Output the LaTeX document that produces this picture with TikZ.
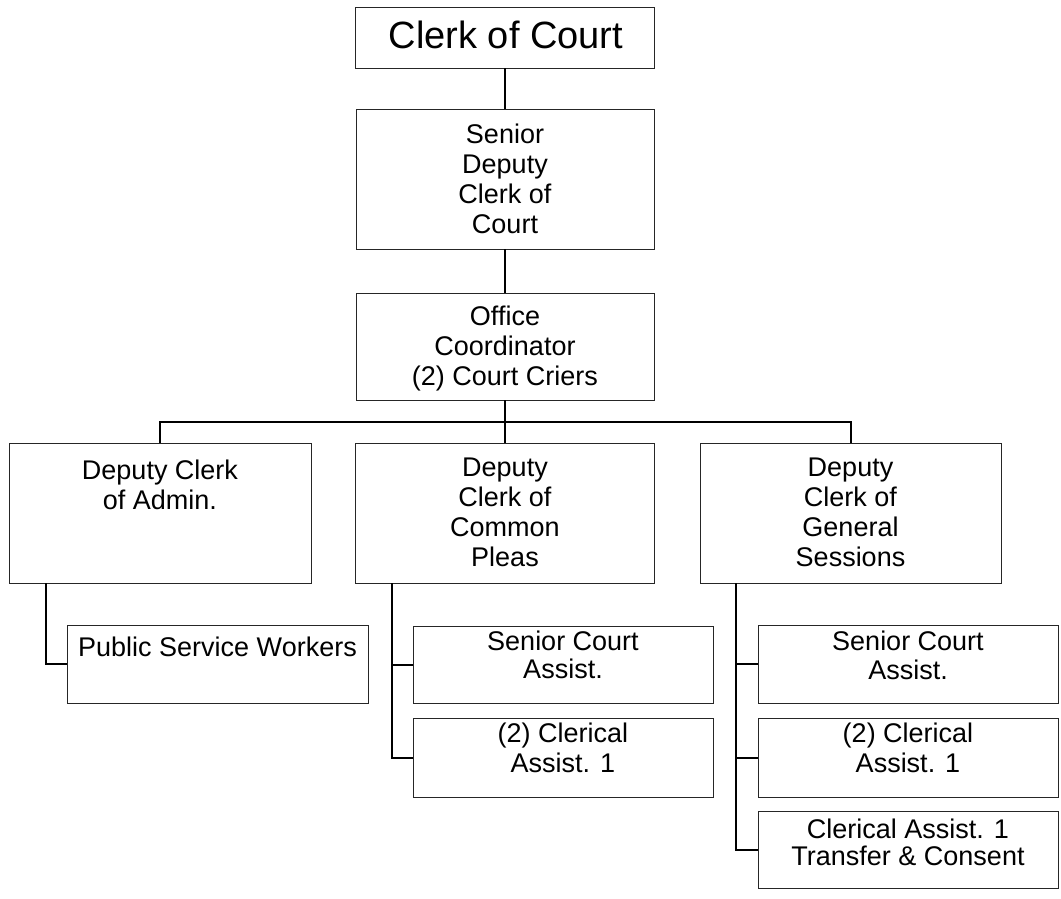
\documentclass[tikz,border=0pt]{standalone}
\usepackage{fontspec}
\setmainfont{Liberation Sans}
\begin{document}
\newcommand\topstrut{\rule{0pt}{24.3pt}}
\begin{tikzpicture}[x=1pt,y=1pt,
  orgrect/.style={draw=black!85, line width=1pt, inner sep=0pt, outer sep=0pt},
  lbl/.style={align=center, anchor=north, inner sep=0pt, outer sep=0pt,
              font=\fontsize{27}{#1}\selectfont},
  lbl/.default=30,
  title/.style={anchor=base, inner sep=0pt, font=\fontsize{38}{40}\selectfont},
  conn/.style={draw=black, line width=2pt}]
\useasboundingbox (0,0) rectangle (1061,-898);

% boxes: centre and size
\node[orgrect, minimum width=299pt, minimum height=61pt]  (clerk)    at (505,-37.5) {};
\node[orgrect, minimum width=298pt, minimum height=140pt] (senior)   at (505,-179) {};
\node[orgrect, minimum width=298pt, minimum height=107pt] (office)   at (505,-346.5) {};
\node[orgrect, minimum width=302pt, minimum height=140pt] (admin)    at (160,-513) {};
\node[orgrect, minimum width=299pt, minimum height=140pt] (pleas)    at (505,-513) {};
\node[orgrect, minimum width=301pt, minimum height=140pt] (sessions) at (850.5,-513) {};
\node[orgrect, minimum width=301pt, minimum height=78pt]  (psw)      at (217.5,-664) {};
\node[orgrect, minimum width=300pt, minimum height=77pt]  (scaA)     at (563,-664.5) {};
\node[orgrect, minimum width=300pt, minimum height=79pt]  (claA)     at (563,-757.5) {};
\node[orgrect, minimum width=300pt, minimum height=78pt]  (scaB)     at (908,-664) {};
\node[orgrect, minimum width=300pt, minimum height=79pt]  (claB)     at (908,-757.5) {};
\node[orgrect, minimum width=300pt, minimum height=77pt]  (tc)       at (908,-849.5) {};

% texts (north = first baseline + strut height)
\node[title] (clerk-t) at (506,-48.3) {Clerk of Court};
\node[lbl] (senior-t)   at (505,-119)   {\topstrut Senior\\Deputy\\Clerk of\\Court};
\node[lbl] (office-t)   at (505,-301)   {\topstrut Office\\Coordinator\\(2) Court Criers};
\node[lbl] (admin-t)    at (160,-454.7) {\topstrut Deputy Clerk\\of Admin.};
\node[lbl] (pleas-t)    at (505,-451.7) {\topstrut Deputy\\Clerk of\\Common\\Pleas};
\node[lbl] (sessions-t) at (850.5,-452.2) {\topstrut Deputy\\Clerk of\\General\\Sessions};
\node[lbl] (psw-t)      at (217.5,-632.4) {\topstrut Public Service Workers};
\node[lbl=28] (scaA-t)  at (563,-625.7) {\topstrut Senior Court\\Assist.};
\node[lbl] (claA-t)     at (563,-717.7) {\topstrut (2) Clerical\\Assist. 1};
\node[lbl=29] (scaB-t)  at (908,-625.7) {\topstrut Senior Court\\Assist.};
\node[lbl] (claB-t)     at (908,-717.7) {\topstrut (2) Clerical\\Assist. 1};
\node[lbl=27] (tc-t)    at (908,-813.7) {\topstrut Clerical Assist. 1\\Transfer \& Consent};

% reporting lines
\draw[conn] (clerk.south) -- (senior.north);
\draw[conn] (senior.south) -- (office.north);
\draw[conn] (office.south) -- (pleas.north);
\draw[conn] (admin.north) -- ++(0,21.3) -| (sessions.north);

\coordinate (trunkA) at ([xshift=36.7pt]admin.south west);
\coordinate (trunkP) at ([xshift=36pt]pleas.south west);
\coordinate (trunkS) at ([xshift=35.5pt]sessions.south west);

\draw[conn] (trunkA) |- (psw.west);
\draw[conn] (trunkP) |- (scaA.west);
\draw[conn] (trunkP) |- (claA.west);
\draw[conn] (trunkS) |- (scaB.west);
\draw[conn] (trunkS) |- (claB.west);
\draw[conn] (trunkS) |- (tc.west);
\end{tikzpicture}
\end{document}
